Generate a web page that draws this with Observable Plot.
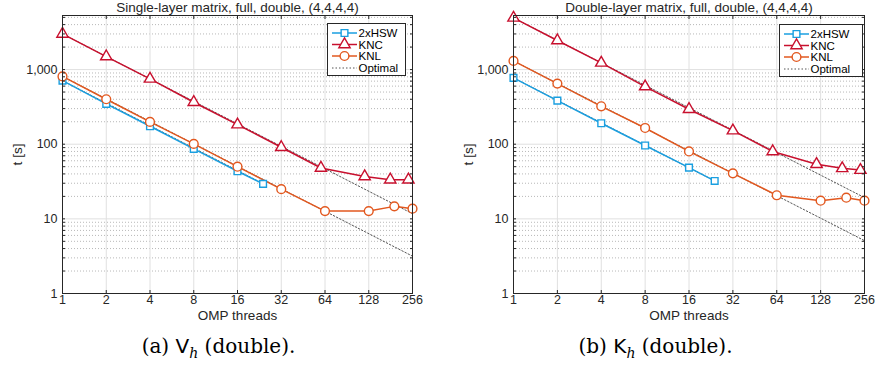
<!DOCTYPE html>
<html><head><meta charset="utf-8">
<script src="https://cdn.jsdelivr.net/npm/d3@7"></script>
<script src="https://cdn.jsdelivr.net/npm/@observablehq/plot@0.6"></script>
<style>
body{margin:0;background:#fff;}
#root{position:relative;width:875px;height:366px;overflow:hidden;font-family:"Liberation Sans",Arial,sans-serif;color:#262626;}
.panel{position:absolute;top:0;}
.legend{position:absolute;box-sizing:border-box;border:1px solid #262626;background:#fff;}
.cap{position:absolute;top:336px;width:437px;text-align:center;font-family:"DejaVu Serif",serif;font-size:20px;line-height:20px;color:#000;}
.cap .sf{font-family:"DejaVu Sans",sans-serif;}
.cap .sub{font-size:14px;font-style:italic;position:relative;top:5px;}
</style></head><body><div id="root"></div>
<script>
// ---------- data ----------
const seriesNames = ["2xHSW", "KNC", "KNL"];
const seriesColors = ["#1A9FE0", "#C8102E", "#E2581F"];
const threadsHSW = [1, 2, 4, 8, 16, 24];
const threadsKNC = [1, 2, 4, 8, 16, 32, 60, 120, 180, 240];
const threadsKNL = [1, 2, 4, 8, 16, 32, 64, 128, 192, 256];

// (a) single-layer matrix
const hswA = [710, 347, 174, 86.5, 43.4, 29.4];
const kncA = [3000, 1494, 750, 365, 183, 91, 48, 37, 33.5, 33.5];
const knlA = [810, 400, 199, 101, 50, 25, 12.7, 12.7, 14.7, 13.7];
// (b) double-layer matrix
const hswB = [774, 384, 191, 96, 48.5, 32.2];
const kncB = [4930, 2448, 1230, 592, 294, 152, 80, 54, 47.5, 45];
const knlB = [1307, 649, 322, 165, 80, 40.7, 20.7, 17.5, 19.2, 17.5];

const xTicks = [1, 2, 4, 8, 16, 32, 64, 128, 256];
const yMajor = [1, 10, 100, 1000];
const yMinor = [2,3,4,5,6,7,8,9,20,30,40,50,60,70,80,90,200,300,400,500,600,700,800,900,2000,3000,4000,5000];
const yMax = 5300;
const optimalEnd = [24, 256, 256];

const titles = ["Single-layer matrix, full, double, (4,4,4,4)", "Double-layer matrix, full, double, (4,4,4,4)"];

// ---------- build ----------
const root = document.getElementById("root");
const FONT = "'Liberation Sans', Arial, sans-serif";

function makePanel(vals, title, pos) {
  const threads = [threadsHSW, threadsKNC, threadsKNL];
  const rows = [];
  seriesNames.forEach((s, k) => threads[k].forEach((x, i) => rows.push({series: s, x, y: vals[k][i]})));
  const opt = [];
  seriesNames.forEach((s, k) => [1, optimalEnd[k]].forEach(x => opt.push({series: s, x, y: vals[k][0] / x})));
  const symbols = ["square", "triangle", "circle"];
  const radii = [3.8, 4.2, 4.4];
  const dotMarks = seriesNames.map((s, k) => Plot.dot(rows.filter(d => d.series === s), {
    x: "x", y: "y", stroke: seriesColors[k], fill: "white", strokeWidth: 1.4, symbol: symbols[k], r: radii[k]
  }));
  const svg = Plot.plot({
    width: pos.width, height: 330,
    marginLeft: pos.ml, marginRight: pos.mr, marginTop: 15, marginBottom: 37,
    style: {fontFamily: FONT, fontSize: "12.5px", color: "#262626", background: "transparent", overflow: "visible"},
    x: {type: "log", base: 2, domain: [1, 256]},
    y: {type: "log", domain: [1, yMax]},
    color: {domain: seriesNames, range: seriesColors},
    marks: [
      Plot.gridY({ticks: yMinor, stroke: "#b8b8b8", strokeOpacity: 1, strokeDasharray: "1,2"}),
      Plot.gridY({ticks: yMajor, stroke: "#e0e0e0", strokeOpacity: 1}),
      Plot.gridX({ticks: xTicks, stroke: "#e0e0e0", strokeOpacity: 1}),
      Plot.line(opt, {x: "x", y: "y", z: "series", stroke: "#555", strokeWidth: 1, strokeDasharray: "1.5,2"}),
      Plot.line(rows, {x: "x", y: "y", z: "series", stroke: "series", strokeWidth: 1.5}),
      ...dotMarks,
      Plot.axisX({ticks: xTicks, anchor: "bottom", tickSize: 0, tickPadding: 2, tickFormat: d => String(d), label: null}),
      Plot.axisX({ticks: xTicks, anchor: "bottom", tickSize: 3, dy: -3, tickFormat: () => "", label: null}),
      Plot.axisX({ticks: xTicks, anchor: "top", tickSize: 3, dy: 3, tickFormat: () => "", label: null}),
      Plot.axisY({ticks: yMajor, anchor: "left", tickSize: 0, tickPadding: 5, tickFormat: d3.format(","), label: null}),
      Plot.axisY({ticks: yMajor.concat(yMinor), anchor: "left", tickSize: 3, dx: 3, tickFormat: () => "", label: null}),
      Plot.axisY({ticks: yMajor.concat(yMinor), anchor: "right", tickSize: 3, dx: -3, tickFormat: () => "", label: null}),
      Plot.frame({stroke: "#262626", strokeWidth: 1}),
      Plot.text([title], {frameAnchor: "top", dy: -8, fontSize: 13.5, lineAnchor: "middle"}),
      Plot.text(["OMP threads"], {frameAnchor: "bottom", dy: 22, fontSize: 13.5, lineAnchor: "middle"}),
      Plot.text(["t [s]"], {frameAnchor: "left", dx: -45, rotate: -90, fontSize: 13.5, textAnchor: "middle", lineAnchor: "middle"})
    ]
  });
  svg.classList.add("panel");
  svg.style.left = pos.left + "px";
  root.appendChild(svg);
}

function makeLegend(box) {
  const div = document.createElement("div");
  div.className = "legend";
  Object.assign(div.style, {left: box.x + "px", top: box.y + "px", width: box.w + "px", height: box.h + "px"});
  root.appendChild(div);
  const s = d3.select(div).append("svg").attr("width", box.w - 2).attr("height", box.h - 2)
    .style("position", "absolute").style("left", "0").style("top", "0")
    .style("font-family", FONT).style("font-size", "11.5px");
  const rowsY = [9, 20.5, 32, 44];
  const syms = [d3.symbolSquare, d3.symbolTriangle, d3.symbolCircle];
  const sizes = [3.8, 4.2, 4.4].map(r => Math.PI * r * r);
  const labels = seriesNames.concat(["Optimal"]);
  labels.forEach((lab, i) => {
    const y = rowsY[i];
    if (i < 3) {
      s.append("line").attr("x1", 4).attr("x2", 29).attr("y1", y).attr("y2", y)
        .attr("stroke", seriesColors[i]).attr("stroke-width", 1.5);
      s.append("path").attr("d", d3.symbol(syms[i], sizes[i])()).attr("transform", `translate(16.5,${y})`)
        .attr("fill", "white").attr("stroke", seriesColors[i]).attr("stroke-width", 1.4);
    } else {
      s.append("line").attr("x1", 4).attr("x2", 29).attr("y1", y).attr("y2", y)
        .attr("stroke", "#555").attr("stroke-width", 1).attr("stroke-dasharray", "1.5,2");
    }
    s.append("text").attr("x", 30.5).attr("y", y).attr("dy", "0.35em").attr("fill", "#000").text(lab);
  });
}

makePanel([hswA, kncA, knlA], titles[0], {left: 0, width: 437, ml: 62, mr: 25});
makePanel([hswB, kncB, knlB], titles[1], {left: 437, width: 438, ml: 76, mr: 11});
makeLegend({x: 327, y: 23, w: 79, h: 53});
makeLegend({x: 779, y: 24, w: 84, h: 53});

const capA = document.createElement("div");
capA.className = "cap"; capA.style.left = "0px";
capA.innerHTML = '(a) <span class="sf">V</span><span class="sub">h</span> (double).';
root.appendChild(capA);
const capB = document.createElement("div");
capB.className = "cap"; capB.style.left = "437px";
capB.innerHTML = '(b) <span class="sf">K</span><span class="sub">h</span> (double).';
root.appendChild(capB);
</script>
</body></html>
